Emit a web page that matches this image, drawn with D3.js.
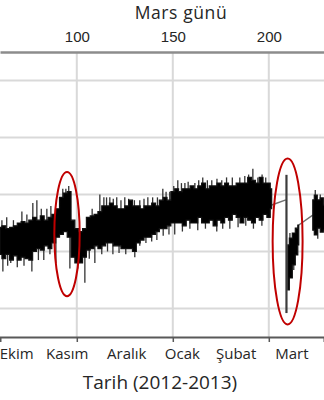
<!DOCTYPE html>
<html>
<head>
<meta charset="utf-8">
<script src="https://cdn.jsdelivr.net/npm/d3@7"></script>
<style>
  body { margin: 0; background: #fff; }
  svg { display: block; font-family: "Open Sans", Lato, sans-serif; }
</style>
</head>
<body>
<svg id="canvas" width="324" height="400"></svg>
<script>
// dose rate band (sol -> upper / lower edge of the dense trace)
let bandSol = [60, 62, 64, 66, 68, 70, 72, 74, 76, 78, 80, 82, 84, 86, 88, 90, 92, 94, 96, 98,
  100, 102, 104, 106, 108, 110, 112, 114, 116, 118, 120, 122, 124, 126, 128, 130, 132, 134, 136, 138,
  140, 142, 144, 146, 148, 150, 152, 154, 156, 158, 160, 162, 164, 166, 168, 170, 172, 174, 176, 178,
  180, 182, 184, 186, 188, 190, 192, 194, 196, 198, 200, 201.5,
  205,
  209.9, 211.5, 213, 214.6, 215.6,
  219,
  222.9, 224.5, 226, 227.6, 229.2]
let bandHi = [208.5, 209, 208, 208.5, 209, 210, 210.5, 210, 211, 212, 211, 212.5, 211, 212, 213, 215, 219, 220.5, 221, 211,
  208, 207, 208, 212, 212.5, 213, 214, 216, 216, 217, 216, 215, 215, 216, 218, 216, 216, 215, 216, 216,
  217, 216, 218, 219, 218, 221, 222, 221, 222, 222, 223, 222, 223, 224, 222, 223, 223, 224, 223, 224,
  223, 223, 224, 224, 224, 226, 225, 224, 226, 224, 224, 222,
  null,
  202.3, 204.7, 206.5, 208.2, 209.3,
  null,
  218.1, 219.8, 218.1, 218.8, 216.3]
let bandLo = [199, 197.5, 199, 197, 198.5, 197, 198, 197.5, 197, 200, 201, 200.5, 202, 201, 203, 205, 206, 207, 205, 198,
  196, 196, 198, 200.5, 201, 202, 201, 202, 203, 203, 202, 202, 201, 201, 201, 200, 203, 204, 205, 205,
  206, 207, 208, 208, 209, 210, 210, 210, 209, 211, 210, 210, 212, 210, 210, 211, 209, 211, 210, 212,
  211, 213, 212, 210, 212, 211, 210, 212, 211, 213, 212, 215,
  null,
  186.5, 190.7, 195.3, 198.8, 202.3,
  null,
  207.5, 205.8, 208.2, 206.8, 207.5]

// single excursions sticking out of the band
let spikeSol = [61, 63.5, 67, 71.4, 74, 77.1, 79.2, 81.5, 84.4, 86.5, 92.7, 94.3, 95.8, 108, 112, 114.1, 115.5,
  117.2, 119, 120.8, 123, 125, 127, 130, 132.8, 135, 137, 139.5, 142, 144.8, 146.5, 148.4,
  150.5, 152.6, 154.5, 156.3, 158, 161.5, 163.5, 165.6, 168, 170.3, 173, 175.5, 178, 181, 184.9,
  187.5, 189.5, 191.7, 194.3, 196.5, 198.4, 211, 224.2, 226.8,
  61.5, 64, 65.6, 69, 72.5, 76.6, 80, 82.8, 86, 89.1, 96.4, 100.5, 104.2, 106.5, 109.4, 113,
  116, 118.8, 122, 125.5, 130.2, 132.8, 136, 139, 141.7, 145, 148, 151, 155, 158.9,
  163, 167, 172.9, 176, 179.7, 184, 188, 192, 196.4, 213, 225.5]
let spikeVal = [211, 212, 211, 214, 213, 217, 218, 215, 215, 216, 222, 222, 223, 215, 220, 219, 219,
  219, 218.5, 219, 218, 219, 218.5, 218, 218, 218.5, 219, 219, 219, 222, 221, 221,
  223, 225, 224, 224, 224.5, 224, 225, 226, 225, 225, 225.5, 225, 226, 226, 226,
  226.5, 227, 229, 226, 227, 226, 206.5, 221.6, 220,
  193, 195, 196, 194.5, 195, 193, 197, 197, 199, 196, 194, 194, 189, 197.5, 196, 199,
  200, 199, 199.5, 199, 198, 202, 203, 203.5, 204, 205.5, 206, 206, 207, 208,
  207.5, 208, 207, 208, 208, 208.5, 209, 208, 209, 193.5, 204.5]

// lines drawn across the data gaps
let linkSol = [[201.5, 208.9], [215.6, 222.9]]
let linkVal = [[216.3, 218.1], [209.3, 212.8]]

// solar particle event spike
let sepSol = 209.2
let sepHi = 226.9
let sepLo = 178.4

// red rings: centre sol, centre value, half width (sol), half height (value)
let rings = [[94.9, 206.1, 6.6, 21.8], [209.8, 203.5, 7.8, 29.1]]

let solTicks = [100, 150, 200]
let gridVals = [180, 200, 220, 240, 260]
let months = ['Ekim', 'Kasım', 'Aralık', 'Ocak', 'Şubat', 'Mart']
let monthSol = [68.7, 95, 126, 155, 183, 212]

let canvas = d3.select('#canvas')

let x = d3.scaleLinear().domain([60, 228.75]).range([0, 324])
let y = d3.scaleLinear().domain([170, 270]).range([337, 52])

// grid
canvas.selectAll('.hgrid')
  .data(gridVals)
  .enter()
  .append('line')
  .attr('x1', 0).attr('x2', 324)
  .attr('y1', (d) => y(d)).attr('y2', (d) => y(d))
  .attr('stroke', '#d9d9d9')
  .attr('stroke-width', 2)

canvas.selectAll('.vgrid')
  .data(solTicks)
  .enter()
  .append('line')
  .attr('x1', (d) => x(d)).attr('x2', (d) => x(d))
  .attr('y1', y(270)).attr('y2', y(170))
  .attr('stroke', '#d9d9d9')
  .attr('stroke-width', 2)

let band = bandSol.map((s, i) => ({sol: s, hi: bandHi[i], lo: bandLo[i]}))
let solid = band.filter((d) => d.hi != null)

let midAt = (s) => {
  let best = solid[0]
  solid.forEach((d) => { if (Math.abs(d.sol - s) < Math.abs(best.sol - s)) best = d })
  return (best.hi + best.lo) / 2
}

// spikes
canvas.selectAll('.spike')
  .data(spikeSol)
  .enter()
  .append('line')
  .attr('x1', (d) => x(d)).attr('x2', (d) => x(d))
  .attr('y1', (d, i) => y(spikeVal[i]))
  .attr('y2', (d) => y(midAt(d)))
  .attr('stroke', '#333')
  .attr('stroke-width', 1.3)

// gap links
canvas.selectAll('.link')
  .data(linkSol)
  .enter()
  .append('line')
  .attr('x1', (d) => x(d[0])).attr('x2', (d) => x(d[1]))
  .attr('y1', (d, i) => y(linkVal[i][0])).attr('y2', (d, i) => y(linkVal[i][1]))
  .attr('stroke', '#707070')
  .attr('stroke-width', 1.5)

let area = d3.area()
  .defined((d) => d.hi != null)
  .curve(d3.curveStep)
  .x((d) => x(d.sol))
  .y0((d) => y(d.lo))
  .y1((d) => y(d.hi))

canvas.append('path')
  .datum(band)
  .attr('d', area)
  .attr('fill', '#000')
  .attr('stroke', '#111')
  .attr('stroke-width', 1.2)

canvas.append('line')
  .attr('x1', x(sepSol)).attr('x2', x(sepSol))
  .attr('y1', y(sepHi)).attr('y2', y(sepLo))
  .attr('stroke', '#3c3c3c')
  .attr('stroke-width', 2.2)

// rings
canvas.selectAll('.ring')
  .data(rings)
  .enter()
  .append('ellipse')
  .attr('cx', (d) => x(d[0]))
  .attr('cy', (d) => y(d[1]))
  .attr('rx', (d) => x(d[0] + d[2]) - x(d[0]))
  .attr('ry', (d) => y(d[1] - d[3]) - y(d[1]))
  .attr('fill', 'none')
  .attr('stroke', '#c00000')
  .attr('stroke-width', 2)

// top axis (sol)
let topAxis = canvas.append('g')
  .attr('transform', 'translate(0,' + y(270) + ')')
  .call(d3.axisTop(x).tickValues(solTicks).tickSize(0).tickPadding(10))
topAxis.select('.domain').attr('stroke', '#8c8c8c').attr('stroke-width', 2.5)
topAxis.selectAll('text').attr('font-size', 15).attr('fill', '#262626').attr('font-family', null)

canvas.append('text')
  .attr('x', 181).attr('y', 18.8)
  .attr('text-anchor', 'middle')
  .attr('font-size', 17.5)
  .attr('letter-spacing', 0.6)
  .attr('fill', '#262626')
  .text('Mars günü')

// bottom axis
let bottomAxis = canvas.append('g')
  .attr('transform', 'translate(0,' + y(170) + ')')
  .call(d3.axisBottom(x).tickValues(solTicks).tickSize(5).tickFormat(''))
bottomAxis.select('.domain').attr('stroke', '#595959').attr('stroke-width', 2)
bottomAxis.selectAll('line').attr('stroke', '#595959').attr('stroke-width', 1.5)

canvas.selectAll('.month')
  .data(months)
  .enter()
  .append('text')
  .attr('x', (d, i) => x(monthSol[i]))
  .attr('y', 359)
  .attr('text-anchor', 'middle')
  .attr('font-size', 15)
  .attr('fill', '#262626')
  .text((d) => d)

canvas.append('text')
  .attr('x', 160).attr('y', 389)
  .attr('text-anchor', 'middle')
  .attr('font-size', 19)
  .attr('fill', '#262626')
  .text('Tarih (2012-2013)')
</script>
</body>
</html>
